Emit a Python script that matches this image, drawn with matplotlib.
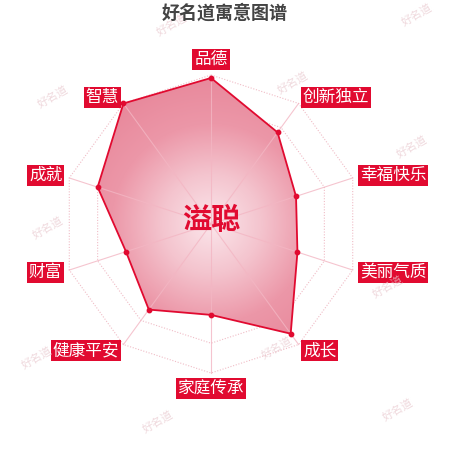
import numpy as np
import matplotlib
matplotlib.use("Agg")
import matplotlib.pyplot as plt
from matplotlib.colors import LinearSegmentedColormap

plt.rcParams['font.family'] = ['Noto Sans CJK SC', 'DejaVu Sans']

title = "好名道寓意图谱"
name = "溢聪"
categories = ['品德', '创新独立', '幸福快乐', '美丽气质', '成长',
              '家庭传承', '健康平安', '财富', '成就', '智慧']
values = [98, 76, 60, 61, 91, 61, 71, 60, 80, 100]
max_value = 100
levels = [20, 40, 60, 80, 100]

red = '#e10a30'

fig = plt.figure(figsize=(4.5, 4.5), dpi=100)
ax = fig.add_axes([0, 0, 1, 1])
scale = 1.49  # px per unit
ax.set_xlim(-211 / scale, (450 - 211) / scale)
ax.set_ylim(-(450 - 224) / scale, 224 / scale)
ax.set_aspect('equal')
ax.axis('off')

n = len(categories)
ang = np.pi / 2 - np.arange(n) * 2 * np.pi / n
ca, sa = np.cos(ang), np.sin(ang)

# grid rings
for lv in levels:
    ax.plot(np.append(ca, ca[0]) * lv, np.append(sa, sa[0]) * lv,
            color='#f0bcc6', lw=0.8, ls=(0, (1, 1.5)), zorder=1)

# value polygon with radial gradient
v = np.array(values, dtype=float)
px, py = ca * v, sa * v
poly = ax.fill(px, py, facecolor='none', edgecolor=red, lw=1.3, zorder=4)[0]
cmap = LinearSegmentedColormap.from_list('pk', ['#fbe6eb', '#f4c4ce', '#ec97a8', '#e8889b'])
g = np.linspace(-max_value, max_value, 400)
X, Y = np.meshgrid(g, g)
im = ax.imshow(np.hypot(X, Y) / max_value, extent=(-max_value, max_value, -max_value, max_value),
               origin='lower', cmap=cmap, vmin=0, vmax=1, zorder=2)
im.set_clip_path(poly)

# spokes
for c, s in zip(ca, sa):
    ax.plot([0, c * max_value], [0, s * max_value], color='#f3b6c3', lw=0.8, alpha=0.8, zorder=3)

ax.scatter(px, py, s=10, color=red, zorder=5)

# category labels
lr = 105
for lab, c, s in zip(categories, ca, sa):
    if abs(c) < 0.01:
        ha = 'center'
        va = 'bottom' if s > 0 else 'top'
    else:
        ha = 'left' if c > 0 else 'right'
        va = 'center'
    ax.text(c * lr, s * lr, lab, ha=ha, va=va, fontsize=12, color='white',
            bbox=dict(boxstyle='square,pad=0.12', fc=red, ec='none'), zorder=6)

# center name
ax.text(0, 3, name, ha='center', va='center', fontsize=21, fontweight='bold', color=red, zorder=6)

fig.text(0.5, 1 - 13 / 450, title, ha='center', va='center', fontsize=13,
         fontweight='bold', color='#444444')

# watermarks
marks = [(172, 25), (417, 15), (293, 83), (53, 97), (412, 147), (48, 228),
         (388, 287), (37, 358), (277, 348), (158, 422), (398, 410)]
for mx, my in marks:
    fig.text(mx / 450, 1 - my / 450, '好名道', ha='center', va='center', fontsize=8,
             color='#e9c9cf', alpha=0.7, rotation=30, zorder=0)

fig.savefig('out.png', dpi=100)
